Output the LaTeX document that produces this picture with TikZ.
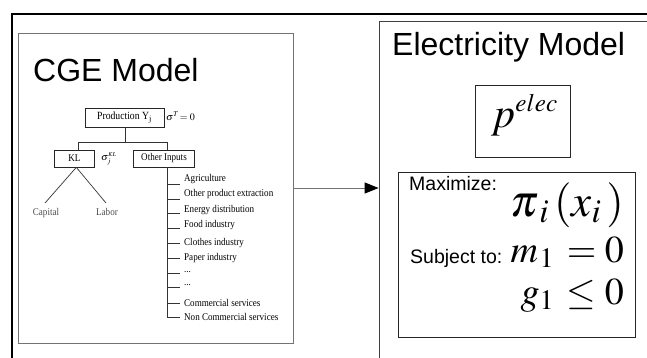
\documentclass[tikz,border=0pt]{standalone}
\usepackage{mathptmx}
\usepackage{fontspec}
\setmainfont{Liberation Serif}
\newfontfamily\arialfont{Liberation Sans}
\newfontfamily\treefont[FakeStretch=0.88]{Liberation Serif}
\usetikzlibrary{calc,arrows.meta}
\newcommand\threedots{...}

\begin{document}
\begin{tikzpicture}[x=1pt,y=-1pt,
  title/.style={font=\arialfont\fontsize{32}{34}\selectfont, anchor=base west, inner sep=0pt},
  sans/.style={font=\arialfont\fontsize{19.5}{21}\selectfont, anchor=base west, inner sep=0pt},
  treebox/.style={draw=black!85, line width=0.7pt, inner sep=0pt, font=\treefont\fontsize{10.3}{11}\selectfont},
  treeline/.style={draw=black!80, line width=0.7pt},
  item/.style={font=\treefont\fontsize{10.3}{11}\selectfont, anchor=west, inner sep=0pt},
  leaf/.style={font=\treefont\fontsize{10.3}{11}\selectfont, text=black!70, inner sep=1pt, anchor=north},
  panel/.style={draw=black!75, line width=0.8pt},
  mathbox/.style={draw=black!85, line width=0.8pt, inner sep=0pt},
  formula/.style={anchor=base east, inner sep=0pt}
]
\useasboundingbox (0,0) rectangle (647,357);
\clip (0,0) rectangle (647,357);

% outer frame, open to the right and bottom
\draw[line width=2pt] (12,370) -- (12,14) -- (660,14);

% ---------- CGE model ----------
\node[draw=black!55, line width=1pt, minimum width=275pt, minimum height=310pt, inner sep=0pt]
  (cge) at (155.5,188) {};
\node[title] (cgetitle) at (33,81) {CGE Model};

\node[treebox, minimum width=79pt, minimum height=19pt, font=\treefont\fontsize{11}{12}\selectfont]
  (prod) at (124.5,117.5) {Production Y$_{\mathrm{j}}$};
\node[anchor=west, inner sep=0pt, font=\fontsize{10}{11}\selectfont]
  (sigT) at (166,116) {$\sigma^{T}\!=0$};
\node[treebox, minimum width=40pt, minimum height=17pt] (kl) at (74.3,158.5) {KL};
\node[anchor=west, inner sep=0pt, font=\fontsize{10}{11}\selectfont]
  (sigKL) at (101,159) {$\sigma_j^{\scriptscriptstyle KL}$};
\node[treebox, minimum width=61pt, minimum height=17pt] (other) at (164,158.5) {Other Inputs};

\coordinate (fork) at ($(prod.south)+(1,15)$);
\coordinate (kltop) at ($(kl.north)+(4,0)$);
\coordinate (othertop) at ($(other.north)+(3,0)$);
\draw[treeline] ($(prod.south)+(1,0)$) -- (fork);
\draw[treeline] (kltop) |- (fork) -| (othertop);

\node[leaf] (cap) at (46,207) {Capital};
\node[leaf] (lab) at (107,207) {Labor};
\draw[treeline] ($(kl.south)+(2,0)$) -- ($(cap.north)+(-1,-4)$);
\draw[treeline] ($(kl.south)+(2,0)$) -- ($(lab.north)+(-1,-4)$);

\coordinate (trunk) at ($(other.south)+(3,0)$);
\foreach \n/\t/\ty/\ky in {
  1/Agriculture/179/184,
  2/Other product extraction/194/199,
  3/Energy distribution/210/213,
  4/Food industry/225/228,
  5/Clothes industry/243/243,
  6/Paper industry/258/258,
  7/\threedots/272/273,
  8/\threedots/285/287,
  9/Commercial services/303/303,
  10/Non Commercial services/317/317}{
  \node[item] (i\n) at (184,\ty) {\t};
  \coordinate (t\n) at (trunk |- {0,\ky});
  \draw[treeline] (t\n) -- ($(t\n -| i\n.west)+(-4,0)$);
}
\draw[treeline] (trunk) -- (t10);

% ---------- Electricity model ----------
\node[panel, minimum width=290pt, minimum height=360pt, inner sep=0pt]
  (elecbox) at (524,201) {};
\node[title] (electitle) at (392,55) {Electricity Model};

\node[mathbox, minimum width=95pt, minimum height=72pt] (price) at (522.5,121) {};
\node[anchor=base west, inner sep=0pt, font=\fontsize{42}{44}\selectfont]
  (pelec) at (491,127) {$p^{\scriptscriptstyle elec}$};

\node[mathbox, minimum width=237pt, minimum height=165pt] (opt) at (516.5,254.5) {};
\node[sans] (maxlbl) at (409,190) {Maximize:};
\node[formula, font=\fontsize{45}{48}\selectfont] (obj) at (624,216) {$\pi_{\mkern2mu i}\,(x_{i}\,)$};
\node[sans] (subjlbl) at (410,263) {Subject to:};
\node[formula, font=\fontsize{38}{40}\selectfont] (eq) at (624,262) {$m_{\mkern1mu 1}\,=0$};
\node[formula, font=\fontsize{38}{40}\selectfont] (ineq) at (624,304) {$g_{1}\,\le 0$};

% ---------- link between the models ----------
\draw[black!55, line width=1pt, -{Triangle[length=14pt,width=11pt,color=black]}]
  (cge.east) -- (cge.east -| elecbox.west);
\end{tikzpicture}
\end{document}
